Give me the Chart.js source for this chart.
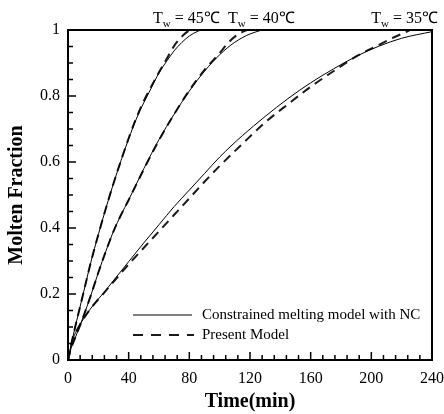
<!DOCTYPE html>
<html>
<head>
<meta charset="utf-8">
<script src="https://cdn.jsdelivr.net/npm/chart.js@4/dist/chart.umd.min.js"></script>
<style>
  html, body { margin: 0; padding: 0; background: #fff; }
  #wrap { width: 444px; height: 414px; }
</style>
</head>
<body>
<div id="wrap"><canvas id="chart" width="444" height="414"></canvas></div>
<script>
// T_w = 45 C
const t45Solid = [0, 2, 5, 10, 15, 20, 25, 30, 35, 40, 45, 50, 55, 60, 65, 70, 75, 80, 86, 88];
const f45Solid = [0, 0.045, 0.105, 0.2, 0.295, 0.38, 0.46, 0.535, 0.605, 0.67, 0.73, 0.78, 0.825, 0.87, 0.905, 0.937, 0.962, 0.982, 0.997, 1];
const t45Dash = [0, 2, 5, 10, 15, 20, 25, 30, 35, 40, 45, 50, 55, 60, 65, 70, 75, 79, 81];
const f45Dash = [0, 0.045, 0.105, 0.2, 0.295, 0.38, 0.46, 0.535, 0.605, 0.672, 0.733, 0.785, 0.83, 0.872, 0.912, 0.952, 0.98, 0.996, 1];

// T_w = 40 C
const t40Solid = [0, 2, 5, 10, 15, 20, 25, 30, 35, 40, 50, 60, 70, 80, 90, 100, 110, 120, 128];
const f40Solid = [0, 0.035, 0.07, 0.13, 0.195, 0.265, 0.33, 0.39, 0.44, 0.485, 0.58, 0.668, 0.745, 0.815, 0.875, 0.925, 0.963, 0.988, 1];
const t40Dash = [0, 2, 5, 10, 15, 20, 25, 30, 35, 40, 50, 60, 70, 80, 90, 100, 105, 110, 115, 118];
const f40Dash = [0, 0.035, 0.07, 0.13, 0.195, 0.265, 0.33, 0.39, 0.44, 0.485, 0.578, 0.666, 0.745, 0.817, 0.879, 0.93, 0.958, 0.98, 0.994, 1];

// T_w = 35 C
const t35Solid = [0, 3, 7, 14, 25, 40, 50, 60, 70, 80, 90, 100, 115, 130, 145, 160, 175, 190, 205, 220, 240];
const f35Solid = [0, 0.06, 0.1, 0.15, 0.212, 0.298, 0.355, 0.41, 0.465, 0.515, 0.565, 0.615, 0.68, 0.738, 0.792, 0.84, 0.882, 0.92, 0.951, 0.975, 0.995];
const t35Dash = [0, 3, 7, 14, 25, 40, 50, 60, 70, 80, 90, 100, 115, 130, 145, 160, 175, 190, 205, 215, 225];
const f35Dash = [0, 0.06, 0.1, 0.15, 0.21, 0.29, 0.34, 0.39, 0.44, 0.49, 0.54, 0.588, 0.655, 0.72, 0.775, 0.828, 0.875, 0.92, 0.955, 0.978, 0.998];

// curve labels above the frame
const annoTimes = [78, 127.5, 222];
const annoTemps = ['45', '40', '35'];

const legendLabels = ['Constrained melting model with NC', 'Present Model'];

const SERIF = '"Liberation Serif", "Times New Roman", serif';

function pts(xs, ys) {
    return xs.map((x, i) => ({ x: x, y: ys[i] }));
}

function solidSet(xs, ys) {
    return {
        data: pts(xs, ys),
        borderColor: '#000',
        borderWidth: 1,
        pointRadius: 0,
        cubicInterpolationMode: 'monotone',
        fill: false
    };
}

function dashSet(xs, ys) {
    return {
        data: pts(xs, ys),
        borderColor: '#1a1a1a',
        borderWidth: 2,
        borderDash: [9, 6],
        pointRadius: 0,
        cubicInterpolationMode: 'monotone',
        fill: false
    };
}

// frame, inward ticks, legend and T_w labels
const decorPlugin = {
    id: 'decor',
    afterDatasetsDraw(chart) {
        const ctx = chart.ctx;
        const a = chart.chartArea;
        const xs = chart.scales.x;
        const ys = chart.scales.y;
        ctx.save();

        // minor / major ticks pointing into the plot
        ctx.strokeStyle = '#000';
        ctx.lineWidth = 1.5;
        ctx.beginPath();
        for (let v = 0; v <= 240; v += 8) {
            const px = xs.getPixelForValue(v);
            const len = v % 40 === 0 ? 8 : 5;
            ctx.moveTo(px, a.bottom);
            ctx.lineTo(px, a.bottom - len);
        }
        for (let i = 0; i <= 20; i++) {
            const py = ys.getPixelForValue(i * 0.05);
            const len = i % 4 === 0 ? 8 : 5;
            ctx.moveTo(a.left, py);
            ctx.lineTo(a.left + len, py);
        }
        ctx.stroke();

        // frame
        ctx.lineWidth = 2;
        ctx.strokeRect(a.left, a.top, a.right - a.left, a.bottom - a.top);

        // legend
        const lx0 = a.left + 65, lx1 = a.left + 124;
        const ly = [a.bottom - 45, a.bottom - 25];
        ctx.lineWidth = 1;
        ctx.beginPath();
        ctx.moveTo(lx0, ly[0]);
        ctx.lineTo(lx1, ly[0]);
        ctx.stroke();
        ctx.lineWidth = 2;
        ctx.strokeStyle = '#1a1a1a';
        ctx.setLineDash([10, 8]);
        ctx.beginPath();
        ctx.moveTo(lx0, ly[1]);
        ctx.lineTo(lx1 + 2, ly[1]);
        ctx.stroke();
        ctx.setLineDash([]);
        ctx.fillStyle = '#000';
        ctx.font = '15px ' + SERIF;
        ctx.textAlign = 'left';
        ctx.textBaseline = 'middle';
        ctx.fillText(legendLabels[0], lx1 + 10, ly[0]);
        ctx.fillText(legendLabels[1], lx1 + 10, ly[1]);

        // T_w = ..℃ labels
        ctx.textBaseline = 'alphabetic';
        annoTimes.forEach((t, i) => {
            const big = '16px ' + SERIF;
            const small = '11px ' + SERIF;
            const rest = ' = ' + annoTemps[i] + '\u2103';
            ctx.font = big;
            const wT = ctx.measureText('T').width;
            const wR = ctx.measureText(rest).width;
            ctx.font = small;
            const wW = ctx.measureText('w').width;
            let x = xs.getPixelForValue(t) - (wT + wW + wR) / 2;
            const base = a.top - 7;
            ctx.font = big;
            ctx.fillText('T', x, base);
            x += wT;
            ctx.font = small;
            ctx.fillText('w', x, base + 4);
            x += wW;
            ctx.font = big;
            ctx.fillText(rest, x, base);
        });

        ctx.restore();
    }
};

new Chart(document.getElementById('chart'), {
    type: 'line',
    data: {
        datasets: [
            solidSet(t45Solid, f45Solid),
            dashSet(t45Dash, f45Dash),
            solidSet(t40Solid, f40Solid),
            dashSet(t40Dash, f40Dash),
            solidSet(t35Solid, f35Solid),
            dashSet(t35Dash, f35Dash)
        ]
    },
    options: {
        responsive: false,
        animation: false,
        layout: { padding: { left: 0, top: 30, right: 12, bottom: 0 } },
        plugins: {
            legend: { display: false },
            tooltip: { enabled: false }
        },
        scales: {
            x: {
                type: 'linear',
                min: 0,
                max: 240,
                afterFit: (s) => {
                    s.height = 54;
                    s.paddingLeft = 0;
                    s.paddingRight = 0;
                },
                grid: { display: false, drawTicks: false },
                border: { display: false },
                ticks: {
                    stepSize: 40,
                    padding: 9,
                    color: '#000',
                    font: { family: SERIF, size: 16 }
                },
                title: {
                    display: true,
                    text: 'Time(min)',
                    color: '#000',
                    padding: { top: 0, bottom: 0 },
                    font: { family: SERIF, size: 20, weight: 'bold' }
                }
            },
            y: {
                type: 'linear',
                min: 0,
                max: 1,
                afterFit: (s) => {
                    s.width = 68;
                    s.paddingTop = 0;
                    s.paddingBottom = 0;
                },
                grid: { display: false, drawTicks: false },
                border: { display: false },
                ticks: {
                    stepSize: 0.2,
                    padding: 8,
                    color: '#000',
                    font: { family: SERIF, size: 16 },
                    callback: (v) => String(Number(v.toFixed(1)))
                },
                title: {
                    display: true,
                    text: 'Molten Fraction',
                    color: '#000',
                    padding: { top: 5, bottom: 0 },
                    font: { family: SERIF, size: 20, weight: 'bold' }
                }
            }
        }
    },
    plugins: [decorPlugin]
});
</script>
</body>
</html>
